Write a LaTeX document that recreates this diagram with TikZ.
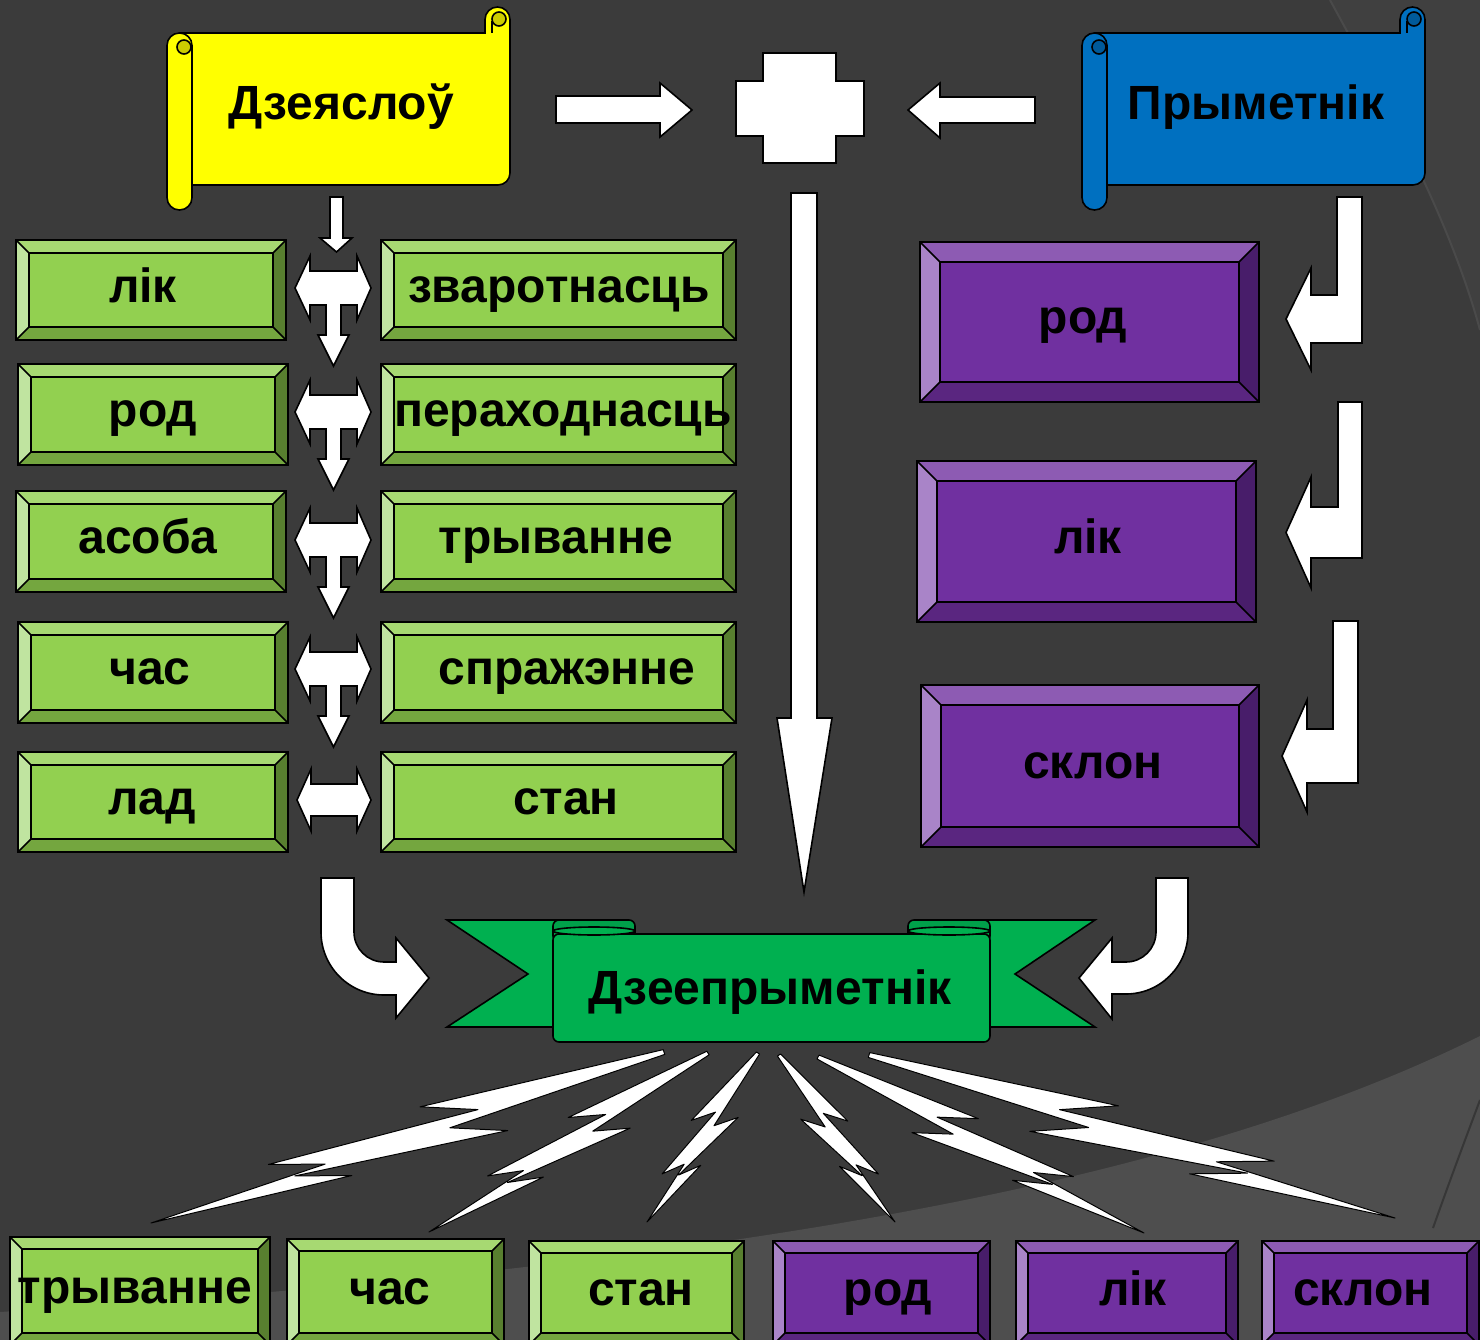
\documentclass[tikz,border=0pt]{standalone}
\usepackage{fontspec}
\setmainfont{Liberation Sans}
\definecolor{bg}{HTML}{3B3B3B}
\definecolor{bglight}{HTML}{4E4E4E}
\definecolor{bgmid}{HTML}{404040}
\definecolor{GF}{HTML}{92D050}
\definecolor{GT}{HTML}{A7D972}
\definecolor{GL}{HTML}{C0E4A0}
\definecolor{GR}{HTML}{587F2F}
\definecolor{GB}{HTML}{74A63F}
\definecolor{PF}{HTML}{7030A0}
\definecolor{PT}{HTML}{8D5BB3}
\definecolor{PL}{HTML}{A984C8}
\definecolor{PR}{HTML}{481D6A}
\definecolor{PB}{HTML}{5A2680}
\definecolor{yel}{HTML}{FFFF00}
\definecolor{yeld}{HTML}{CCCC00}
\definecolor{blu}{HTML}{0070C0}
\definecolor{blud}{HTML}{005A9A}
\definecolor{rib}{HTML}{00B050}
\definecolor{ribd}{HTML}{00A04A}

\newcommand\bevelbox[9]{%
 \fill[#7T] (#2,#3) -- (#4,#3) -- ({#4-#6},{#3+#6}) -- ({#2+#6},{#3+#6}) -- cycle;
 \fill[#7L] (#2,#3) -- ({#2+#6},{#3+#6}) -- ({#2+#6},{#5-#6}) -- (#2,#5) -- cycle;
 \fill[#7R] (#4,#3) -- (#4,#5) -- ({#4-#6},{#5-#6}) -- ({#4-#6},{#3+#6}) -- cycle;
 \fill[#7B] (#2,#5) -- (#4,#5) -- ({#4-#6},{#5-#6}) -- ({#2+#6},{#5-#6}) -- cycle;
 \fill[#7F] ({#2+#6},{#3+#6}) rectangle ({#4-#6},{#5-#6});
 \draw[ol] (#2,#3) rectangle (#4,#5) ({#2+#6},{#3+#6}) rectangle ({#4-#6},{#5-#6})
   (#2,#3) -- ({#2+#6},{#3+#6}) (#4,#3) -- ({#4-#6},{#3+#6})
   (#2,#5) -- ({#2+#6},{#5-#6}) (#4,#5) -- ({#4-#6},{#5-#6});
 \node[lbl] (#1) at (#8,{(#3+#5)/2+12}) {#9};
}

\newcommand\scrollshape[5]{%
 \begin{scope}[shift={(#2,0)}]
 \draw[ol,fill=#3] (12.5,33) -- (318,33) -- (318,19.5)
   .. controls (318,12.6) and (323.6,7) .. (330.5,7)
   .. controls (337.4,7) and (343,12.6) .. (343,19.5) -- (343,173)
   .. controls (343,179.6) and (337.6,185) .. (331,185) -- (12.5,185) -- cycle;
 \draw[ol,fill=#4] (332,19) circle[radius=7pt];
 \draw[ol] (325,21) -- (325,33);
 \draw[ol,fill=#3,rounded corners=12.4pt] (0,33) rectangle (25,210);
 \draw[ol,fill=#4] (17,47) circle[radius=7pt];
 \node[lbl] (#1) at (174,120) {#5};
 \end{scope}
}

\newcommand\tarrow[1]{%
 \draw[warrow] (295,#1) -- (310,{#1-32}) -- (310,{#1-17}) -- (357,{#1-17}) -- (357,{#1-32})
  -- (371,#1) -- (357,{#1+32}) -- (357,{#1+17}) -- (341,{#1+17}) -- (341,{#1+47})
  -- (349,{#1+47}) -- (333.5,{#1+78}) -- (318,{#1+47}) -- (326,{#1+47}) -- (326,{#1+17})
  -- (310,{#1+17}) -- (310,{#1+32}) -- cycle;
}

\newcommand\bentarrow[9]{% a b yt c d hb ht hbot tipx ; tip y = (c+d)/2
 \draw[warrow] (#1,#3) -- (#2,#3) -- (#2,#5) -- (#6,#5) -- (#6,#8) -- (#9,{(#4+#5)/2})
  -- (#6,#7) -- (#6,#4) -- (#1,#4) -- cycle;
}

\newcommand\bolt[5]{%
 \pgfmathsetmacro\bsx{#1}\pgfmathsetmacro\bsy{#2}
 \pgfmathsetmacro\bux{#3-(#1)}\pgfmathsetmacro\buy{#4-(#2)}
 \pgfmathsetmacro\bL{100*sqrt((\bux/100)^2+(\buy/100)^2)}
 \pgfmathsetmacro\bfac{(#5)*(1.0+\bL/800)}
 \pgfmathsetmacro\bnx{-(\buy)/\bL*\bfac}
 \pgfmathsetmacro\bny{(\bux)/\bL*\bfac}
 \foreach \t/\s [count=\i] in {0/1.5, 0.46/15, 0.36/2.5, 0.76/11, 0.66/0.5, 1/0, 0.62/-11, 0.72/-0.5, 0.32/-15, 0.42/-2.5, 0/-1.5}
   {\coordinate (bp\i) at ({\bsx+(\t)*(\bux)+(\s)*(\bnx)},{\bsy+(\t)*(\buy)+(\s)*(\bny)});}
 \draw[boltst] (bp1) -- (bp2) -- (bp3) -- (bp4) -- (bp5) -- (bp6) -- (bp7) -- (bp8)
   -- (bp9) -- (bp10) -- (bp11) -- cycle;
}

\begin{document}
\begin{tikzpicture}[x=1pt,y=-1pt,
  ol/.style={draw=black, line width=1.6pt, line join=miter},
  lbl/.style={font=\fontsize{48}{52}\selectfont\bfseries, inner sep=0pt, anchor=base, text=black},
  warrow/.style={fill=white, draw=black, line width=1.6pt, line join=miter},
  boltst/.style={fill=white, draw=black, line width=1pt, line join=round}]
\useasboundingbox (0,0) rectangle (1480,1340);
% background
\fill[bg] (0,0) rectangle (1480,1340);
\fill[bgmid] (1330,0) .. controls (1390,110) and (1450,220) .. (1480,330) -- (1480,0) -- cycle;
\draw[line width=2pt, color=black!60!white!35!bg] (1330,0) .. controls (1390,110) and (1450,220) .. (1480,330);
\fill[bglight] (0,1312) .. controls (650,1270) and (1150,1200) .. (1480,1036) -- (1480,1340) -- (0,1340) -- cycle;
\draw[line width=2pt, color=black!30!bglight] (1433,1228) .. controls (1450,1180) and (1465,1140) .. (1480,1100);

% scrolls
\scrollshape{verb}{167}{yel}{yeld}{Дзеяслоў}
\scrollshape{adj}{1082}{blu}{blud}{Прыметнік}

% top arrows and plus
\draw[warrow] (556,96) -- (660,96) -- (660,83) -- (692,110) -- (660,137) -- (660,123) -- (556,123) -- cycle;
\draw[warrow] (1035,97) -- (940,97) -- (940,83) -- (908,110) -- (940,138) -- (940,123) -- (1035,123) -- cycle;
\draw[warrow] (763,53) -- (836,53) -- (836,81) -- (864,81) -- (864,136) -- (836,136) -- (836,163)
  -- (763,163) -- (763,136) -- (736,136) -- (736,81) -- (763,81) -- cycle;

% long down arrow
\draw[warrow] (791,193) -- (817,193) -- (817,718) -- (832,718) -- (804,892) -- (777,718) -- (791,718) -- cycle;

% small down arrow under verb scroll
\draw[warrow] (330,197) -- (343,197) -- (343,238) -- (352,238) -- (336.5,252) -- (320,238) -- (330,238) -- cycle;

% green boxes
\bevelbox{g1}{16}{240}{286}{340}{13}{G}{143}{лік}
\bevelbox{g2}{18}{364}{288}{465}{13}{G}{153}{род}
\bevelbox{g3}{16}{491}{286}{592}{13}{G}{148}{асоба}
\bevelbox{g4}{18}{622}{288}{723}{13}{G}{150}{час}
\bevelbox{g5}{18}{752}{288}{852}{13}{G}{152}{лад}
\bevelbox{h1}{381}{240}{736}{340}{13}{G}{559}{зваротнасць}
\bevelbox{h2}{381}{364}{736}{465}{13}{G}{563}{пераходнасць}
\bevelbox{h3}{381}{491}{736}{592}{13}{G}{556}{трыванне}
\bevelbox{h4}{381}{622}{736}{723}{13}{G}{567}{спражэнне}
\bevelbox{h5}{381}{752}{736}{852}{13}{G}{566}{стан}

% T arrows
\tarrow{288}
\tarrow{412}
\tarrow{540}
\tarrow{669}
\draw[warrow] (297,800) -- (311,769) -- (311,784) -- (357,784) -- (357,769) -- (371,800)
  -- (357,831) -- (357,816) -- (311,816) -- (311,831) -- cycle;

% purple boxes
\bevelbox{p1}{920}{242}{1259}{402}{20}{P}{1083}{род}
\bevelbox{p2}{917}{461}{1256}{622}{20}{P}{1088}{лік}
\bevelbox{p3}{921}{685}{1259}{847}{20}{P}{1093}{склон}

% bent arrows
\bentarrow{1337}{1362}{197}{295}{343}{1311}{268}{370}{1286}
\bentarrow{1338}{1362}{402}{507}{558}{1311}{477}{588}{1286}
\bentarrow{1333}{1358}{621}{729}{783}{1307}{700}{812}{1282}

% curved arrows
\draw[warrow] (321,878) -- (354,878) -- (354,932) .. controls (354,948.6) and (367.4,962) .. (384,962)
  -- (396,962) -- (396,938) -- (429,978) -- (396,1018) -- (396,995) -- (384,995)
  .. controls (349.2,995) and (321,966.8) .. (321,932) -- cycle;
\draw[warrow] (1156,878) -- (1188,878) -- (1188,932) .. controls (1188,966.2) and (1160.2,994) .. (1126,994)
  -- (1112,994) -- (1112,1019) -- (1079,978) -- (1112,938) -- (1112,962) -- (1126,962)
  .. controls (1142.6,962) and (1156,948.6) .. (1156,932) -- cycle;

% ribbon
\draw[ol,fill=rib] (447,920) -- (600,920) -- (600,1027) -- (447,1027) -- (528,974) -- cycle;
\draw[ol,fill=rib] (1095,920) -- (943,920) -- (943,1027) -- (1095,1027) -- (1015,974) -- cycle;
\draw[ol,fill=ribd,rounded corners=6pt] (553,920) rectangle (635,942);
\draw[ol,fill=ribd,rounded corners=6pt] (908,920) rectangle (990,942);
\draw[ol,fill=rib,rounded corners=6pt] (553,934) rectangle (990,1042);
\draw[ol,fill=rib] (594,931) ellipse [x radius=41pt, y radius=4pt];
\draw[ol,fill=rib] (949,931) ellipse [x radius=41pt, y radius=4pt];
\node[lbl] (dzeep) at (770,1004) {Дзеепрыметнік};

% lightning bolts
\bolt{664}{1052}{151}{1223}{1}
\bolt{708}{1053}{429}{1232}{1}
\bolt{758}{1053}{647}{1222}{1}
\bolt{779}{1055}{895}{1222}{-1}
\bolt{818}{1057}{1144}{1233}{-1}
\bolt{869}{1055}{1395}{1218}{-1}

% bottom boxes
\bevelbox{b1}{10}{1237}{270}{1345}{12}{G}{135}{трыванне}
\bevelbox{b2}{287}{1239}{504}{1345}{12}{G}{390}{час}
\bevelbox{b3}{529}{1241}{744}{1345}{12}{G}{641}{стан}
\bevelbox{b4}{773}{1241}{990}{1345}{12}{P}{888}{род}
\bevelbox{b5}{1016}{1241}{1238}{1345}{12}{P}{1133}{лік}
\bevelbox{b6}{1262}{1241}{1479}{1345}{12}{P}{1363}{склон}
\end{tikzpicture}
\end{document}
